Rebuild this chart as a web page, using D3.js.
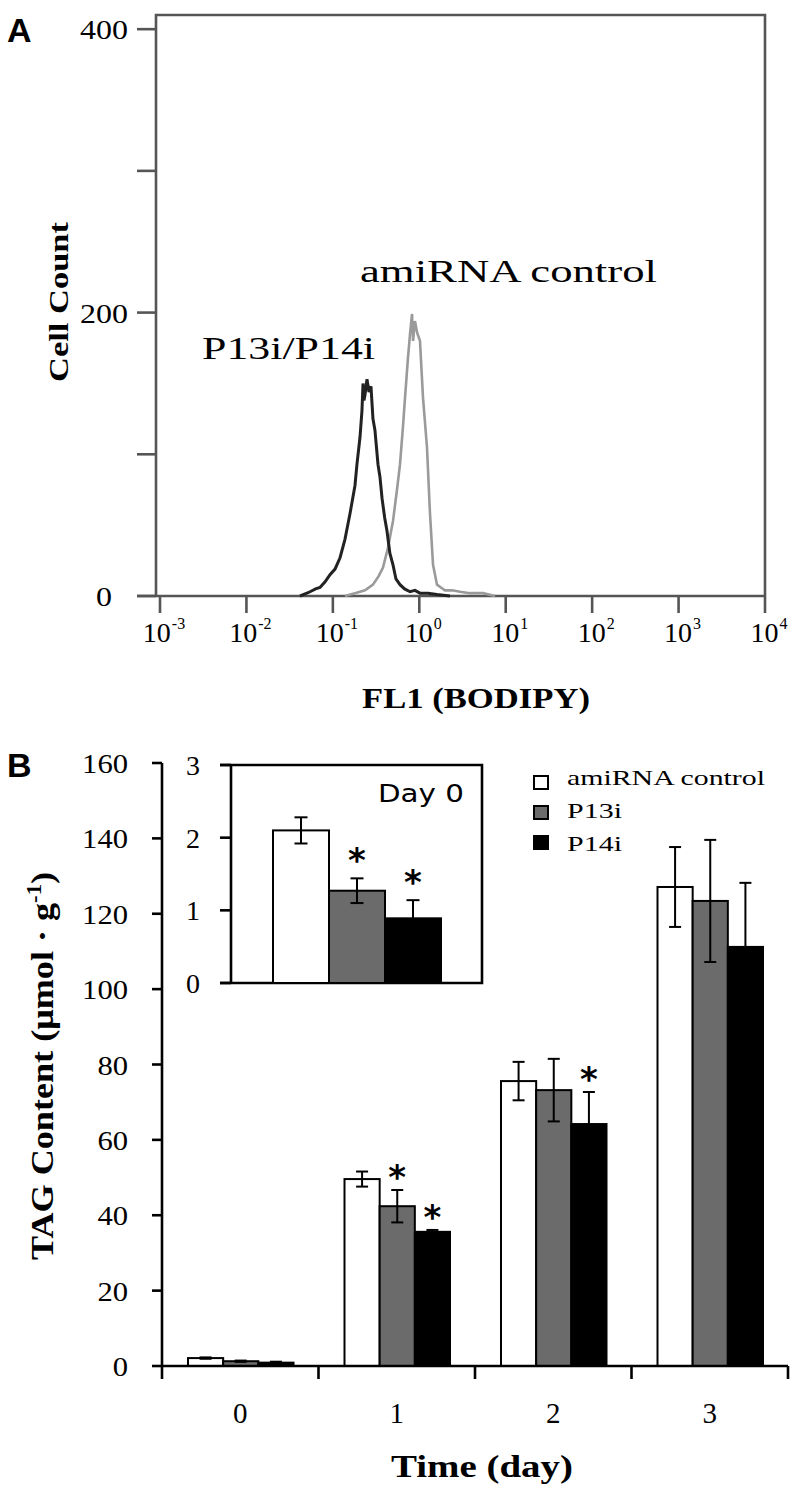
<!DOCTYPE html>
<html><head><meta charset="utf-8">
<script src="https://cdn.jsdelivr.net/npm/d3@7"></script>
<style>
html,body{margin:0;padding:0;background:#fff;} svg{display:block;}
.serif{font-family:"Liberation Serif","Times New Roman",Times,serif;}
.sans{font-family:"Liberation Sans",Arial,Helvetica,sans-serif;}
.dsans{font-family:"DejaVu Sans",sans-serif;}
</style>
</head><body>
<svg id="chart" width="797" height="1493"></svg>
<script>
// ---------- Panel A data (flow cytometry histograms) ----------
const knockLogFL1 = [-1.380,-1.300,-1.264,-1.200,-1.149,-1.090,-1.033,-0.975,-0.917,-0.860,-0.802,-0.744,-0.721,-0.686,-0.663,-0.651,-0.640,-0.628,-0.605,-0.582,-0.559,-0.536,-0.513,-0.478,-0.455,-0.431,-0.400,-0.374,-0.340,-0.304,-0.270,-0.223,-0.170,-0.107,-0.050,0.008,0.100,0.205,0.355];
const knockCount  = [0,2,3,5,6,10,15,19,27,40,58,78,93,112,131,150,138,142,153,144,148,125,117,93,84,69,55,46,30,22,12,8,5,3,4,2,2,1,0];
const ctrlLogFL1  = [-0.860,-0.744,-0.628,-0.536,-0.470,-0.420,-0.362,-0.304,-0.258,-0.223,-0.188,-0.165,-0.131,-0.107,-0.084,-0.072,-0.061,-0.050,-0.026,0.008,0.043,0.089,0.124,0.159,0.205,0.250,0.297,0.380,0.471,0.587,0.737,0.876];
const ctrlCount   = [0,2,4,8,14,20,34,53,75,93,120,140,168,185,199,180,188,194,186,180,140,105,58,22,8,6,4,4,3,2,2,0];
const histXTickExp = [-3,-2,-1,0,1,2,3,4];
const histYTicks = [0,100,200,300,400];
const histYTickLabels = ["0","","200","","400"];
const histLabels = ["P13i/P14i","amiRNA control"];

// ---------- Panel B data (TAG content) ----------
const days = ["0","1","2","3"];
const groups = ["amiRNA control","P13i","P14i"];
const tagControl = [2.1, 49.6, 75.6, 127.1];
const tagP13i    = [1.27, 42.4, 73.2, 123.4];
const tagP14i    = [0.89, 35.6, 64.2, 111.2];
const errControl = [0.18, 2.0, 5.1, 10.6];
const errP13i    = [0.17, 4.3, 8.3, 16.2];
const errP14i    = [0.25, 0.5, 8.5, 17.0];
const sigControl = [false,false,false,false];
const sigP13i    = [false,true,false,false];
const sigP14i    = [false,true,true,false];
const insetSig   = [false,true,true];
const tagYTicks  = [0,20,40,60,80,100,120,140,160];
const insetYTicks = [0,1,2,3];
const groupFill  = ["#ffffff","#6b6b6b","#000000"];

const svg = d3.select("#chart");

// ================= PANEL A =================
const gA = svg.append("g");
const xA = d3.scaleLog().domain([1e-3,1e4]).range([160,765]);
const yA = d3.scaleLinear().domain([0,410]).range([596,15]);
const axisGray = "#555";

gA.append("text").text("A").attr("class","sans").attr("x",7).attr("y",42)
  .attr("font-weight","bold").attr("font-size",34);

gA.append("path").attr("d",`M${156},${yA(0)}V${yA(410)}H${765}V${yA(0)}`)
  .attr("fill","none").attr("stroke",axisGray).attr("stroke-width",2.6);
gA.append("line").attr("x1",137).attr("x2",765).attr("y1",yA(0)).attr("y2",yA(0))
  .attr("stroke",axisGray).attr("stroke-width",2.6);

gA.selectAll(".yt").data(histYTicks).join("line")
  .attr("x1",137).attr("x2",156).attr("y1",d=>yA(d)).attr("y2",d=>yA(d))
  .attr("stroke",axisGray).attr("stroke-width",2.6);
gA.selectAll(".ytl").data(histYTicks.filter((d,i)=>histYTickLabels[i]!=="")).join("text")
  .text(d=>histYTickLabels[histYTicks.indexOf(d)]).attr("class","serif")
  .attr("x",d=>d===0?112:128).attr("y",d=>yA(d)+10)
  .attr("text-anchor","end").attr("font-size",28)
  .attr("textLength",d=>String(d).length*16).attr("lengthAdjust","spacingAndGlyphs");

gA.selectAll(".xt").data(histXTickExp).join("line")
  .attr("x1",d=>xA(Math.pow(10,d))).attr("x2",d=>xA(Math.pow(10,d)))
  .attr("y1",yA(0)).attr("y2",yA(0)+17)
  .attr("stroke",axisGray).attr("stroke-width",2.6);
const xtl = gA.selectAll(".xtl").data(histXTickExp).join("text").attr("class","serif")
  .attr("x",d=>xA(Math.pow(10,d))+4).attr("y",642)
  .attr("text-anchor","middle").attr("font-size",28);
xtl.append("tspan").text("10");
xtl.append("tspan").text(d=>d<0?("-"+(-d)):String(d)).attr("dy",-13).attr("dx",1).attr("font-size",16);

gA.append("text").text("FL1 (BODIPY)").attr("class","serif").attr("x",362).attr("y",708)
  .attr("font-weight","bold").attr("font-size",29)
  .attr("textLength",228).attr("lengthAdjust","spacingAndGlyphs");
gA.append("text").text("Cell Count").attr("class","serif")
  .attr("transform","translate(68,302) rotate(-90)")
  .attr("text-anchor","middle").attr("font-weight","bold").attr("font-size",27)
  .attr("textLength",160).attr("lengthAdjust","spacingAndGlyphs");

const lineA = d3.line().x(d=>xA(Math.pow(10,d[0]))).y(d=>yA(d[1]));
const ctrlPts = ctrlLogFL1.map((e,i)=>[e,ctrlCount[i]]);
const knockPts = knockLogFL1.map((e,i)=>[e,knockCount[i]]);
gA.append("path").attr("d",lineA(ctrlPts)).attr("fill","none").attr("stroke","#9a9a9a").attr("stroke-width",2.6);
gA.append("path").attr("d",lineA(knockPts)).attr("fill","none").attr("stroke","#222").attr("stroke-width",3);

gA.append("text").text(histLabels[1]).attr("class","serif").attr("x",360).attr("y",282)
  .attr("font-size",32).attr("textLength",297).attr("lengthAdjust","spacingAndGlyphs");
gA.append("text").text(histLabels[0]).attr("class","serif").attr("x",202).attr("y",359)
  .attr("font-size",32).attr("textLength",173).attr("lengthAdjust","spacingAndGlyphs");

// ================= PANEL B =================
const gB = svg.append("g");
const yB = d3.scaleLinear().domain([0,160]).range([1366,763]);
const xB = d3.scaleBand().domain(days).range([162,788]).padding(0);
const xSub = d3.scaleBand().domain(groups).range([26,131.5]).padding(0);
const values = [tagControl,tagP13i,tagP14i];
const errs = [errControl,errP13i,errP14i];
const sigs = [sigControl,sigP13i,sigP14i];

gB.append("text").text("B").attr("class","sans").attr("x",7).attr("y",777)
  .attr("font-weight","bold").attr("font-size",34);

gB.append("line").attr("x1",162).attr("x2",162).attr("y1",yB(160)).attr("y2",yB(0))
  .attr("stroke","#000").attr("stroke-width",2.6);
gB.selectAll(".yt").data(tagYTicks).join("line")
  .attr("x1",152).attr("x2",162).attr("y1",d=>yB(d)).attr("y2",d=>yB(d))
  .attr("stroke","#000").attr("stroke-width",2.6);
gB.selectAll(".ytl").data(tagYTicks).join("text").text(d=>d).attr("class","serif")
  .attr("x",128).attr("y",d=>yB(d)+10).attr("text-anchor","end").attr("font-size",28)
  .attr("textLength",d=>String(d).length*15.3).attr("lengthAdjust","spacingAndGlyphs");

const flat = [];
days.forEach((day,di)=>groups.forEach((g,gi)=>flat.push({day,g,gi,v:values[gi][di],e:errs[gi][di],s:sigs[gi][di]})));
gB.selectAll(".bar").data(flat).join("rect")
  .attr("x",d=>xB(d.day)+xSub(d.g)).attr("width",xSub.bandwidth())
  .attr("y",d=>yB(d.v)).attr("height",d=>yB(0)-yB(d.v))
  .attr("fill",d=>groupFill[d.gi]).attr("stroke","#000").attr("stroke-width",2);
const eb = gB.selectAll(".eb").data(flat).join("g")
  .attr("transform",d=>`translate(${xB(d.day)+xSub(d.g)+xSub.bandwidth()/2},0)`);
eb.append("line").attr("y1",d=>yB(d.v+d.e)).attr("y2",d=>yB(Math.max(0,d.v-d.e)))
  .attr("stroke","#000").attr("stroke-width",2);
eb.append("line").attr("x1",-6).attr("x2",6).attr("y1",d=>yB(d.v+d.e)).attr("y2",d=>yB(d.v+d.e))
  .attr("stroke","#000").attr("stroke-width",2);
eb.append("line").attr("x1",-6).attr("x2",6).attr("y1",d=>yB(Math.max(0,d.v-d.e))).attr("y2",d=>yB(Math.max(0,d.v-d.e)))
  .attr("stroke","#000").attr("stroke-width",2);
gB.selectAll(".ast").data(flat.filter(d=>d.s)).join("text").text("*").attr("class","dsans")
  .attr("x",d=>xB(d.day)+xSub(d.g)+xSub.bandwidth()/2).attr("y",d=>yB(d.v+d.e)-1)
  .attr("text-anchor","middle").attr("font-weight","bold").attr("font-size",34);

gB.append("line").attr("x1",162).attr("x2",788).attr("y1",yB(0)).attr("y2",yB(0))
  .attr("stroke","#000").attr("stroke-width",2.6);
const bounds = days.map(d=>xB(d)).concat([788]);
gB.selectAll(".xt").data(bounds).join("line")
  .attr("x1",d=>d).attr("x2",d=>d).attr("y1",yB(0)).attr("y2",yB(0)+13)
  .attr("stroke","#000").attr("stroke-width",2.6);
gB.selectAll(".xtl").data(days).join("text").text(d=>d).attr("class","serif")
  .attr("x",d=>xB(d)+xB.bandwidth()/2).attr("y",1423).attr("text-anchor","middle").attr("font-size",29);
gB.append("text").text("Time (day)").attr("class","serif").attr("x",482).attr("y",1477).attr("text-anchor","middle")
  .attr("font-weight","bold").attr("font-size",32)
  .attr("textLength",182).attr("lengthAdjust","spacingAndGlyphs");
const yt = gB.append("text").attr("class","serif").attr("transform","translate(53,1066) rotate(-90)").attr("text-anchor","middle")
  .attr("font-weight","bold").attr("font-size",32)
  .attr("textLength",388).attr("lengthAdjust","spacingAndGlyphs");
yt.append("tspan").text("TAG Content (\u03bcmol \u00b7 g");
yt.append("tspan").text("-1").attr("dy",-12).attr("font-size",20);
yt.append("tspan").text(")").attr("dy",12);

const leg = gB.selectAll(".leg").data(groups).join("g")
  .attr("transform",(d,i)=>`translate(534,${[776,806,836][i]})`);
leg.append("rect").attr("width",14).attr("height",13)
  .attr("fill",(d,i)=>groupFill[i]).attr("stroke","#000").attr("stroke-width",2);
leg.append("text").text(d=>d).attr("class","serif").attr("x",33).attr("y",(d,i)=>[9,12,15][i])
  .attr("font-size",22)
  .attr("textLength",(d,i)=>[198,55,55][i]).attr("lengthAdjust","spacingAndGlyphs");

// ---------- inset ----------
const yI = d3.scaleLinear().domain([0,3]).range([983,765]);
const xI = d3.scaleBand().domain(groups).range([273,441]).padding(0);
const gI = gB.append("g");
gI.append("rect").attr("x",231).attr("y",765).attr("width",251).attr("height",218).attr("fill","#fff");
gI.append("path").attr("d",`M231,${yI(0)}V${yI(3)}M220,${yI(3)}H482V${yI(0)}H220`)
  .attr("fill","none").attr("stroke","#000").attr("stroke-width",2.6);
gI.selectAll(".it").data(insetYTicks).join("line")
  .attr("x1",220).attr("x2",231).attr("y1",d=>yI(d)).attr("y2",d=>yI(d))
  .attr("stroke","#000").attr("stroke-width",2.6);
gI.selectAll(".itl").data(insetYTicks).join("text").text(d=>d).attr("class","serif")
  .attr("x",200).attr("y",d=>yI(d)+10).attr("text-anchor","end").attr("font-size",28);
const inset = groups.map((g,gi)=>({g,gi,v:values[gi][0],e:errs[gi][0],s:insetSig[gi]}));
gI.selectAll(".ib").data(inset).join("rect")
  .attr("x",d=>xI(d.g)).attr("width",xI.bandwidth())
  .attr("y",d=>yI(d.v)).attr("height",d=>yI(0)-yI(d.v))
  .attr("fill",d=>groupFill[d.gi]).attr("stroke","#000").attr("stroke-width",2);
const ieb = gI.selectAll(".ieb").data(inset).join("g")
  .attr("transform",d=>`translate(${xI(d.g)+xI.bandwidth()/2},0)`);
ieb.append("line").attr("y1",d=>yI(d.v+d.e)).attr("y2",d=>yI(d.v-d.e)).attr("stroke","#000").attr("stroke-width",2);
ieb.append("line").attr("x1",-6.5).attr("x2",6.5).attr("y1",d=>yI(d.v+d.e)).attr("y2",d=>yI(d.v+d.e)).attr("stroke","#000").attr("stroke-width",2);
ieb.append("line").attr("x1",-6.5).attr("x2",6.5).attr("y1",d=>yI(d.v-d.e)).attr("y2",d=>yI(d.v-d.e)).attr("stroke","#000").attr("stroke-width",2);
gI.selectAll(".iast").data(inset.filter(d=>d.s)).join("text").text("*").attr("class","dsans")
  .attr("x",d=>xI(d.g)+xI.bandwidth()/2).attr("y",d=>yI(d.v+d.e)-6)
  .attr("text-anchor","middle").attr("font-weight","bold").attr("font-size",34);
gI.append("text").text("Day 0").attr("class","dsans").attr("x",378).attr("y",802)
  .attr("font-size",25).attr("textLength",86).attr("lengthAdjust","spacingAndGlyphs");
</script>
</body></html>
